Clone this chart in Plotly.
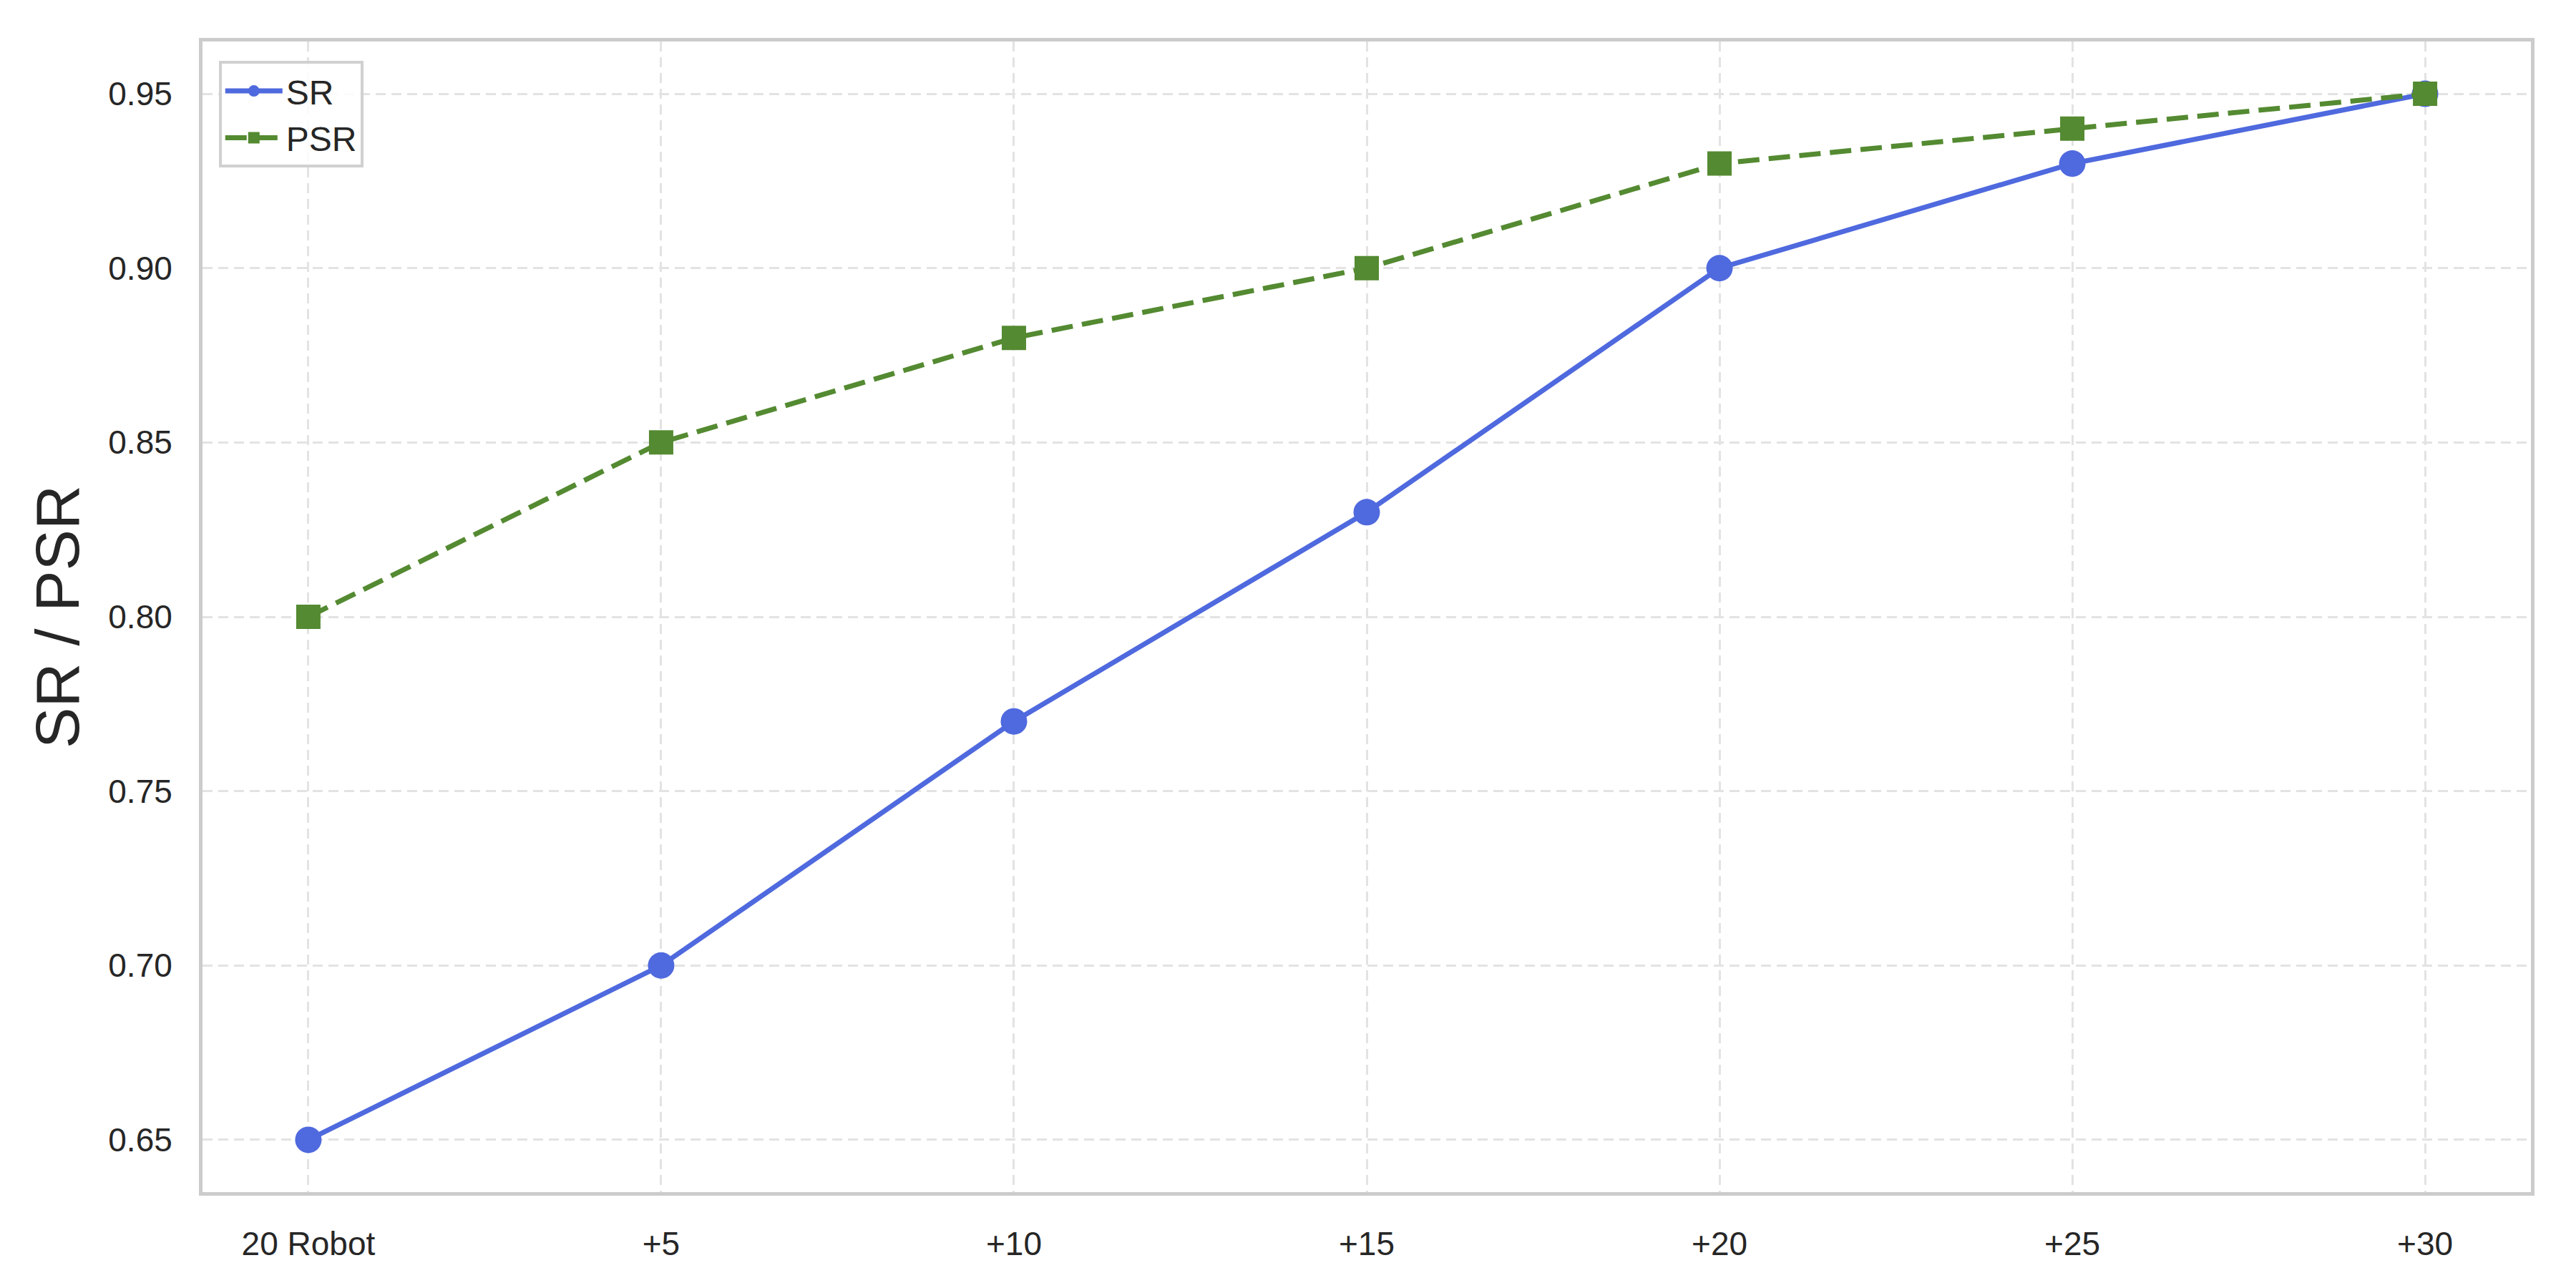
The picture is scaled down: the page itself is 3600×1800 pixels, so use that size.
import plotly.graph_objects as go

categories = ["20 Robot", "+5", "+10", "+15", "+20", "+25", "+30"]
sr_values = [0.65, 0.70, 0.77, 0.83, 0.90, 0.93, 0.95]
psr_values = [0.80, 0.85, 0.88, 0.90, 0.93, 0.94, 0.95]
y_ticks = [0.65, 0.70, 0.75, 0.80, 0.85, 0.90, 0.95]
y_tick_labels = ["0.65", "0.70", "0.75", "0.80", "0.85", "0.90", "0.95"]

x_idx = list(range(len(categories)))

BLUE = "#4F69DE"
GREEN = "#548A31"
TEXT = "#262626"
FONT = "Liberation Sans, Arial, sans-serif"

fig = go.Figure()
fig.add_trace(go.Scatter(
    x=x_idx, y=sr_values, name="SR", mode="lines+markers",
    line=dict(color=BLUE, width=7),
    marker=dict(symbol="circle", size=37, color=BLUE),
))
fig.add_trace(go.Scatter(
    x=x_idx, y=psr_values, name="PSR", mode="lines+markers",
    line=dict(color=GREEN, width=7, dash="30px,13px"),
    marker=dict(symbol="square", size=34, color=GREEN),
))

grid = dict(showgrid=True, gridcolor="#e3e3e3", gridwidth=3, griddash="14px,8px")

fig.update_layout(
    width=3600, height=1800,
    paper_bgcolor="white", plot_bgcolor="white",
    margin=dict(l=275, r=71, t=50, b=142),
    font=dict(family=FONT, color=TEXT, size=46),
    showlegend=True,
    legend=dict(
        x=0.007, y=0.983, xanchor="left", yanchor="top",
        bgcolor="rgba(255,255,255,0.85)", bordercolor="#d0d0d0", borderwidth=4,
        font=dict(size=48, color=TEXT), itemwidth=80,
        tracegroupgap=6,
    ),
    xaxis=dict(
        range=[-0.3, 6.3], tickmode="array", tickvals=x_idx, ticktext=categories,
        showline=True, linecolor="#cccccc", linewidth=5, mirror=True,
        ticks="outside", ticklen=28, tickcolor="rgba(0,0,0,0)",
        zeroline=False, tickfont=dict(size=46, color=TEXT), **grid,
    ),
    yaxis=dict(
        range=[0.635, 0.965], tickmode="array", tickvals=y_ticks, ticktext=y_tick_labels,
        showline=True, linecolor="#cccccc", linewidth=5, mirror=True,
        ticks="outside", ticklen=28, tickcolor="rgba(0,0,0,0)",
        zeroline=False, tickfont=dict(size=46, color=TEXT),
        title=dict(text="SR / PSR", font=dict(size=86, color=TEXT), standoff=14),
        **grid,
    ),
)

fig.write_html("out.html")
